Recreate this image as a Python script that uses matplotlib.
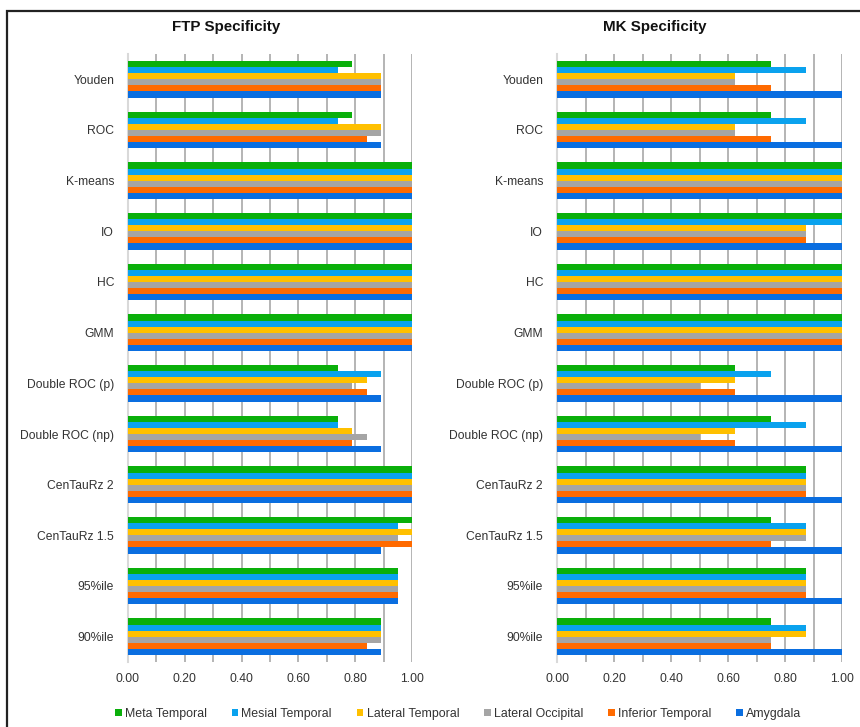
import matplotlib
matplotlib.use("Agg")
import matplotlib.pyplot as plt
from matplotlib.patches import Rectangle, Patch
import numpy as np

plt.rcParams['font.family'] = ['Liberation Sans', 'DejaVu Sans']

methods = ["Youden", "ROC", "K-means", "IO", "HC", "GMM",
           "Double ROC (p)", "Double ROC (np)", "CenTauRz 2",
           "CenTauRz 1.5", "95%ile", "90%ile"]

regions = ["Meta Temporal", "Mesial Temporal", "Lateral Temporal",
           "Lateral Occipital", "Inferior Temporal", "Amygdala"]
colors = ["#0AAF0A", "#0AA2EE", "#FFC000", "#A5A5A5", "#FF6A00", "#0A6EE0"]

# FTP specificity per method, one list per region
ftp_meta = [0.79, 0.79, 1, 1, 1, 1, 0.74, 0.74, 1, 1.00, 0.95, 0.89]
ftp_mesial = [0.74, 0.74, 1, 1, 1, 1, 0.89, 0.74, 1, 0.95, 0.95, 0.89]
ftp_lat_temp = [0.89, 0.89, 1, 1, 1, 1, 0.84, 0.79, 1, 1.00, 0.95, 0.89]
ftp_lat_occ = [0.89, 0.89, 1, 1, 1, 1, 0.79, 0.84, 1, 0.95, 0.95, 0.89]
ftp_inf_temp = [0.89, 0.84, 1, 1, 1, 1, 0.84, 0.79, 1, 1.00, 0.95, 0.84]
ftp_amygdala = [0.89, 0.89, 1, 1, 1, 1, 0.89, 0.89, 1, 0.89, 0.95, 0.89]

# MK specificity per method, one list per region
mk_meta = [0.75, 0.75, 1, 1, 1, 1, 0.625, 0.75, 0.875, 0.75, 0.875, 0.75]
mk_mesial = [0.875, 0.875, 1, 1, 1, 1, 0.75, 0.875, 0.875, 0.875, 0.875, 0.875]
mk_lat_temp = [0.625, 0.625, 1, 0.875, 1, 1, 0.625, 0.625, 0.875, 0.875, 0.875, 0.875]
mk_lat_occ = [0.625, 0.625, 1, 0.875, 1, 1, 0.5, 0.5, 0.875, 0.875, 0.875, 0.75]
mk_inf_temp = [0.75, 0.75, 1, 0.875, 1, 1, 0.625, 0.625, 0.875, 0.75, 0.875, 0.75]
mk_amygdala = [1, 1, 1, 1, 1, 1, 1, 1, 1, 1, 1, 1]

ftp_series = [ftp_meta, ftp_mesial, ftp_lat_temp, ftp_lat_occ, ftp_inf_temp, ftp_amygdala]
mk_series = [mk_meta, mk_mesial, mk_lat_temp, mk_lat_occ, mk_inf_temp, mk_amygdala]

W, H = 860, 727
fig = plt.figure(figsize=(W / 100, H / 100), dpi=100)

# outer frame
fig.patches.append(Rectangle((7 / W, -0.05), 1.2, 1 - 11 / H + 0.05,
                             transform=fig.transFigure, fill=False,
                             edgecolor="#222222", linewidth=1.6))


def panel(x0, x1, series, title, title_x):
    ax = fig.add_axes([x0 / W, 1 - 662 / H, (x1 - x0) / W, (662 - 54) / H])
    y = np.arange(len(methods))
    h = 0.12
    for k, (vals, c) in enumerate(zip(series, colors)):
        ax.barh(y + (k - 2.5) * h, vals, height=h, color=c, zorder=3,
                edgecolor="none")
    ax.set_xlim(0, 1)
    ax.set_ylim(len(methods) - 0.5, -0.5)
    ax.set_xticks(np.arange(0, 1.01, 0.2))
    ax.set_xticks(np.arange(0, 1.01, 0.1), minor=True)
    ax.set_xticklabels([f"{v:.2f}" for v in np.arange(0, 1.01, 0.2)])
    ax.set_yticks(y)
    ax.set_yticklabels(methods)
    ax.grid(axis="x", which="both", color="#A0A0A0", linewidth=1.1, zorder=0)
    ax.tick_params(axis="both", which="both", length=0, labelsize=8.7,
                   colors="#333333")
    ax.tick_params(axis="y", pad=10)
    ax.tick_params(axis="x", pad=8)
    for s in ["top", "right", "bottom"]:
        ax.spines[s].set_visible(False)
    ax.spines["left"].set_color("#D9D9D9")
    ax.spines["left"].set_linewidth(1.5)
    fig.text(title_x / W, 1 - 27 / H, title, ha="center", va="center",
             fontsize=10.9, fontweight="bold", color="#111111")
    return ax


panel(128, 412, ftp_series, "FTP Specificity", 226)
panel(557, 842, mk_series, "MK Specificity", 655)

handles = [Patch(facecolor=c, edgecolor="none") for c in colors]
fig.legend(handles, regions, loc="center", bbox_to_anchor=(458 / W, 1 - 714 / H),
           ncol=6, frameon=False, fontsize=8.9, handlelength=0.55,
           handleheight=0.55, handletextpad=0.25, columnspacing=2.0,
           labelcolor="#333333")

fig.savefig("out.png", dpi=100)
